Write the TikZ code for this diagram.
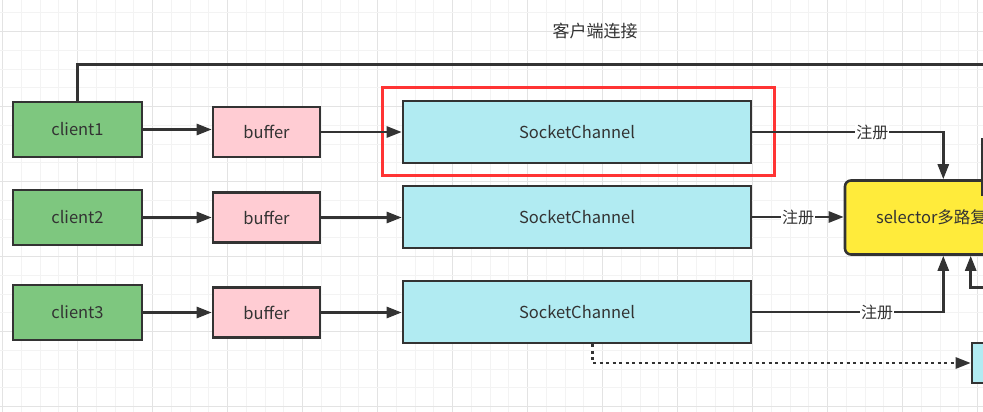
\documentclass[tikz,border=0pt]{standalone}
\usepackage{fontspec}
\setmainfont{Noto Sans CJK SC}
\usetikzlibrary{arrows.meta}
\definecolor{ink}{HTML}{333333}
\definecolor{gmin}{HTML}{F3F3F3}
\definecolor{gmaj}{HTML}{E3E3E3}
\definecolor{cgreen}{HTML}{7EC77F}
\definecolor{cpink}{HTML}{FFCCD3}
\definecolor{ccyan}{HTML}{B1EBF2}
\definecolor{cyellow}{HTML}{FFEB3B}
\definecolor{cred}{HTML}{FF3434}
\tikzset{
  base/.style={draw=ink, line width=2.6pt, inner sep=0pt, text=ink,
    font=\fontsize{16.5}{19}\selectfont},
  client/.style={base, fill=cgreen, minimum width=129pt, minimum height=55pt},
  buf/.style={base, fill=cpink, minimum width=107pt, minimum height=50pt},
  sock/.style={base, fill=ccyan, minimum width=348pt, minimum height=62pt},
  sel/.style={base, fill=cyellow, rounded corners=6pt, minimum width=206pt, minimum height=74pt},
  redbox/.style={draw=cred, line width=3pt, minimum width=392pt, minimum height=87pt, inner sep=0pt},
  conn/.style={draw=ink, line width=2.6pt},
  arr/.style={conn, -{Triangle[length=15pt,width=11pt]}},
  lbl/.style={fill=white, inner sep=1pt, text=ink, font=\fontsize{16}{18}\selectfont},
  dotline/.style={conn, dash pattern=on 3pt off 3.5pt},
}
\begin{document}
\begin{tikzpicture}[x=1pt,y=-1pt]
\useasboundingbox (0,0) rectangle (983,412);
\begin{scope}
\clip (0,0) rectangle (983,412);
\fill[white] (0,0) rectangle (983,412);
% grid
\foreach \i in {0,...,53}{
  \pgfmathsetmacro{\xx}{2.7+18.75*\i}
  \pgfmathtruncatemacro{\m}{mod(\i,4)}
  \ifnum\m=0
    \draw[gmaj, line width=1pt] (\xx,0) -- (\xx,412);
  \else
    \draw[gmin, line width=1pt] (\xx,0) -- (\xx,412);
  \fi
}
\foreach \k in {0,...,23}{
  \pgfmathsetmacro{\yy}{31.7-37.5+18.75*\k}
  \pgfmathtruncatemacro{\m}{mod(\k,4)}
  \ifnum\m=2
    \draw[gmaj, line width=1pt] (0,\yy) -- (983,\yy);
  \else
    \draw[gmin, line width=1pt] (0,\yy) -- (983,\yy);
  \fi
}

% title
\node[text=ink, font=\fontsize{17}{19}\selectfont] (title) at (595,31) {客户端连接};

% red highlight
\node[redbox] (red) at (578.5,131.5) {};

% nodes
\node[client] (c1) at (77.5,129.5) {client1};
\node[client] (c2) at (77.5,217.5) {client2};
\node[client] (c3) at (77.5,312.5) {client3};
\node[buf] (b1) at (266.5,132) {buffer};
\node[buf] (b2) at (266.5,217.5) {buffer};
\node[buf] (b3) at (266.5,312.5) {buffer};
\node[sock] (s1) at (577,132) {SocketChannel};
\node[sock] (s2) at (577,217) {SocketChannel};
\node[sock] (s3) at (577,312) {SocketChannel};
\node[sel] (sel) at (948,217.5) {selector多路复用器};
\node[base, fill=ccyan, minimum width=100pt, minimum height=40pt] (rb) at (1022,363) {};

% helper coordinates
\coordinate (x1) at (943.3,0);
\coordinate (x2) at (970.7,0);
\coordinate (xd) at (592.3,0);
\coordinate (topend) at (1010,64.5);
\coordinate (rin) at (1010,287.7);
\coordinate (va) at (982.5,138);
\coordinate (vb) at (982.5,196);

% connectors
\draw[conn] (c1.north) |- (topend);
\foreach \n in {1,2,3}{
  \draw[arr] (c\n.east) -- (b\n.west |- c\n.east);
  \draw[arr] (b\n.east) -- (s\n.west |- b\n.east);
}
\draw[arr] (s1.east) -| node[lbl, pos=0.314] {注册} (x1 |- sel.north);
\draw[arr] (s2.east) -- node[lbl] {注册} (sel.west |- s2.east);
\draw[arr] (s3.east) -| node[lbl, pos=0.327] {注册} (x1 |- sel.south);
\draw[arr] (rin) -| (x2 |- sel.south);
\draw[conn] (va) -- (vb);
\draw[dotline, -{Triangle[length=15pt,width=11pt]}] (xd |- s3.south) |- (rb.west);
\end{scope}
\end{tikzpicture}
\end{document}
